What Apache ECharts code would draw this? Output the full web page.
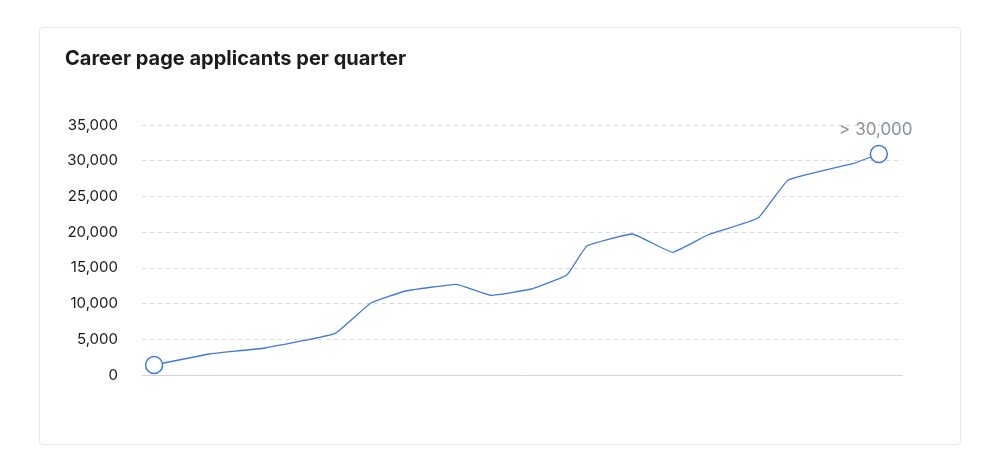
<!DOCTYPE html>
<html>
<head>
<meta charset="utf-8">
<script src="https://cdn.jsdelivr.net/npm/echarts@6/dist/echarts.min.js"></script>
<style>
  html, body { margin: 0; padding: 0; background: #ffffff; }
  #card { position: absolute; left: 39px; top: 27px; width: 920px; height: 416px;
          border: 1px solid #e4e6ea; border-radius: 4px; background: #fff; }
  #chart { position: absolute; left: 0; top: 0; width: 1000px; height: 472px; }
</style>
</head>
<body>
<div id="card"></div>
<div id="chart"></div>
<script>
const monthOffsets = [0, 5.5, 11, 18, 21.5, 25, 30, 33.5, 37.5, 41, 43, 47.5, 51.5, 55, 60, 63, 69.5, 72];
const applicants   = [1400, 2940, 3780, 5840, 10040, 11760, 12700, 11160, 12040, 14000, 18060, 19740, 17180, 19600, 21980, 27300, 29640, 30940];
const yTicks = [0, 5000, 10000, 15000, 20000, 25000, 30000, 35000];
const titleText = 'Career page applicants per quarter';
const endLabel = '> 30,000';

const lineColor = '#4179d8';
const lastIdx = applicants.length - 1;
const seriesData = applicants.map((v, i) => {
  const item = { value: [monthOffsets[i], v] };
  if (i === 0 || i === lastIdx) {
    item.symbol = 'circle';
    item.symbolSize = 17;
  } else {
    item.symbol = 'none';
  }
  if (i === lastIdx) {
    item.label = { show: true, position: 'top', distance: 6, offset: [-3, 0], formatter: endLabel,
                   color: '#8b9099', fontSize: 17, fontFamily: 'Inter, sans-serif' };
  }
  return item;
});

const chart = echarts.init(document.getElementById('chart'), null, { renderer: 'canvas' });
chart.setOption({
  animation: false,
  backgroundColor: 'transparent',
  title: {
    text: titleText,
    left: 60, top: 44,
    textStyle: { fontFamily: 'Inter, sans-serif', fontWeight: 700, fontSize: 20, color: '#1c1c1c' }
  },
  grid: { left: 142, right: 97, top: 125, bottom: 97 },
  xAxis: {
    type: 'value',
    min: -1.2, max: 74.4,
    axisLine: { show: false },
    axisTick: { show: false },
    axisLabel: { show: false },
    splitLine: { show: false }
  },
  yAxis: {
    type: 'value',
    min: yTicks[0], max: yTicks[yTicks.length - 1], interval: yTicks[1] - yTicks[0],
    axisLine: { show: false },
    axisTick: { show: false },
    axisLabel: {
      margin: 24,
      color: '#1a1a1a', fontSize: 15, fontFamily: 'Inter, sans-serif',
      formatter: v => v === 0 ? '0' : v.toLocaleString('en-US')
    },
    splitLine: {
      show: true,
      lineStyle: { color: '#d9dbde', type: [4, 4], width: 1 }
    }
  },
  series: [{
    type: 'line',
    data: seriesData,
    smooth: 0.1,
    showSymbol: true,
    lineStyle: { color: lineColor, width: 1.3 },
    itemStyle: { color: '#ffffff', borderColor: lineColor, borderWidth: 1.5 },
    markLine: {
      silent: true, symbol: 'none', label: { show: false },
      lineStyle: { color: '#d2d4d8', type: 'solid', width: 1 },
      data: [{ yAxis: 0 }]
    },
    z: 3
  }]
});
</script>
</body>
</html>
